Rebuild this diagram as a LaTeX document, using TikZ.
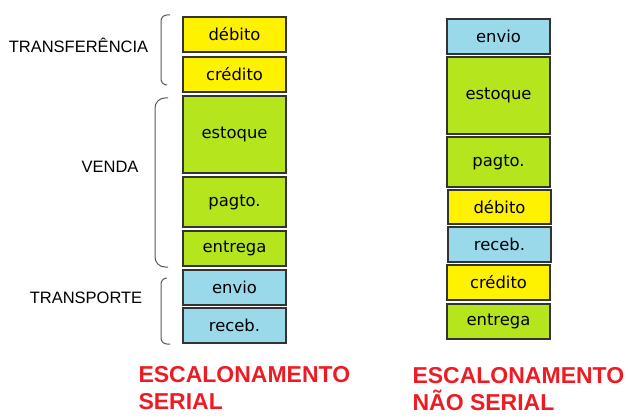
\documentclass[tikz,border=0pt]{standalone}
\usepackage{fontspec}
\setmainfont{Liberation Sans}
\newfontfamily\boxfont{DejaVu Sans}
\usepackage{xcolor}
\usetikzlibrary{math}
\definecolor{myyellow}{RGB}{255,242,0}
\definecolor{mygreen}{RGB}{181,230,29}
\definecolor{myblue}{RGB}{153,217,234}
\definecolor{myred}{RGB}{237,28,36}
\tikzset{
  op/.style={draw=black!80, line width=1.3pt, outer sep=0pt, inner sep=0pt,
    minimum width=\w pt, anchor=north west, font=\boxfont\fontsize{16.4}{19}\selectfont},
  yel/.style={op, fill=myyellow},
  grn/.style={op, fill=mygreen},
  blu/.style={op, fill=myblue},
  grp/.style={draw=black!65, line width=1pt, rounded corners=6pt},
  lbl/.style={anchor=base, font=\fontsize{16.5}{20}\selectfont},
  ttl/.style={anchor=base west, text=myred, font=\fontsize{23}{27}\bfseries\selectfont}
}

\begin{document}
\begin{tikzpicture}[x=1pt,y=-1pt]
\tikzmath{
\w=103;
\xl=183;
\xr=447;
}
\useasboundingbox (0,0) rectangle (628,419);

%%%%%%%%%% left: serial
\node[yel, minimum height=35pt] (deb) at (\xl,17) {débito};
\node[yel, minimum height=35pt] (cred) at (\xl,57) {crédito};
\node[grn, minimum height=77pt] (est) at (\xl,96) {estoque};
\node[grn, minimum height=50pt] (pag) at (\xl,177) {pagto.};
\node[grn, minimum height=35pt] (ent) at (\xl,231) {entrega};
\node[blu, minimum height=35pt] (env) at (\xl,270) {envio};
\node[blu, minimum height=35pt] (rec) at (\xl,308) {receb.};

\draw[grp] (170,15) -- (161,15) -- (161,85) -- (167,85);
\draw[grp, rounded corners=10pt] (168,98) -- (155,98) -- (155,267) -- (168,267);
\draw[grp] (166,278) -- (161,278) -- (161,344) -- (170,344);

\node[lbl] (transf) at (78.5,53) {TRANSFERÊNCIA};
\node[lbl] (venda) at (110,173) {VENDA};
\node[lbl] (transp) at (86,303) {TRANSPORTE};

\node[ttl] (sa) at (135,382) {ESCALONAMENTO};
\node[ttl] (sb) at (135,409) {SERIAL};

%%%%%%%%%% right: nao serial
\node[blu, minimum height=35pt] (env2) at (\xr,19) {envio};
\node[grn, minimum height=77pt] (est2) at (\xr,57) {estoque};
\node[grn, minimum height=50pt] (pag2) at (\xr,137) {pagto.};
\node[yel, minimum height=34pt] (deb2) at (\xr+1,190) {débito};
\node[blu, minimum height=35pt] (rec2) at (\xr+1,227) {receb.};
\node[yel, minimum height=35pt] (cred2) at (\xr,265) {crédito};
\node[grn, minimum height=35pt] (ent2) at (\xr,304) {entrega};

\node[ttl] (na) at (409,383) {ESCALONAMENTO};
\node[ttl] (nb) at (409,410) {NÃO SERIAL};

\end{tikzpicture}
\end{document}
